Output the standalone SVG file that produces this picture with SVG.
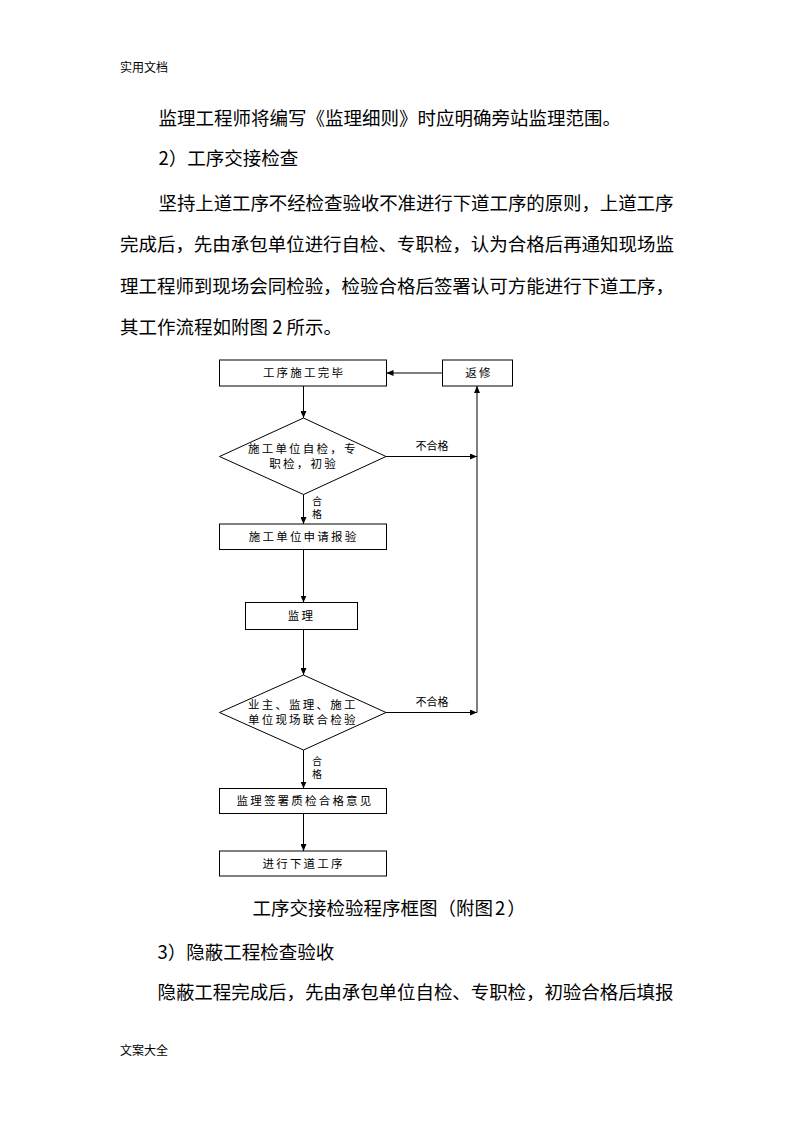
<svg xmlns="http://www.w3.org/2000/svg" width="794" height="1123" viewBox="0 0 794 1123">
<style>
.body{font-family:"Noto Sans CJK SC","Liberation Serif",sans-serif;font-size:18.5px;fill:#000}
.hdr{font-family:"Noto Sans CJK SC",sans-serif;font-size:12px;fill:#000}
.lbl{font-family:"Noto Sans CJK SC",sans-serif;font-size:11.5px;letter-spacing:2.2px;fill:#000;text-anchor:middle}
.sm{font-family:"Noto Sans CJK SC",sans-serif;font-size:11px;fill:#000;text-anchor:middle}
.vs{font-family:"Noto Sans CJK SC",sans-serif;font-size:10px;fill:#000;text-anchor:middle}
.shape{fill:#fff;stroke:#000;stroke-width:1}
.conn{fill:none;stroke:#000;stroke-width:1}
</style>
<defs>
<marker id="arr" markerUnits="userSpaceOnUse" markerWidth="7" markerHeight="6" refX="7" refY="3" orient="auto">
<path d="M0,0 L7,3 L0,6 z" fill="#000"/>
</marker>
</defs>
<rect width="794" height="1123" fill="#fff"/>
<g id="page-text">
<text class="hdr" x="120" y="72">实用文档</text>
<text class="body" x="158.5" y="125">监理工程师将编写《监理细则》时应明确旁站监理范围。</text>
<text class="body" x="158.5" y="165.3">2）工序交接检查</text>
<text class="body" x="158.5" y="209.5" textLength="515" lengthAdjust="spacing">坚持上道工序不经检查验收不准进行下道工序的原则，上道工序</text>
<text class="body" x="120" y="251.3" textLength="554" lengthAdjust="spacing">完成后，先由承包单位进行自检、专职检，认为合格后再通知现场监</text>
<text class="body" x="120" y="293" textLength="554" lengthAdjust="spacing">理工程师到现场会同检验，检验合格后签署认可方能进行下道工序，</text>
<text class="body" x="120" y="333.7">其工作流程如附图 2 所示。</text>
<text class="body" x="252.5" y="915.3">工序交接检验程序框图（附图<tspan dx="2">2</tspan><tspan dx="2">）</tspan></text>
<text class="body" x="157.5" y="958.7">3）隐蔽工程检查验收</text>
<text class="body" x="157.5" y="999" textLength="516" lengthAdjust="spacing">隐蔽工程完成后，先由承包单位自检、专职检，初验合格后填报</text>
<text class="hdr" x="120" y="1055">文案大全</text>
</g>
<g id="connectors">
<line class="conn" x1="303.5" y1="386" x2="303.5" y2="418" marker-end="url(#arr)"/>
<line class="conn" x1="303.5" y1="494.5" x2="303.5" y2="524" marker-end="url(#arr)"/>
<line class="conn" x1="303.5" y1="549.5" x2="303.5" y2="602.5" marker-end="url(#arr)"/>
<line class="conn" x1="303.5" y1="629.5" x2="303.5" y2="675" marker-end="url(#arr)"/>
<line class="conn" x1="303.5" y1="750" x2="303.5" y2="788.5" marker-end="url(#arr)"/>
<line class="conn" x1="303.5" y1="813.5" x2="303.5" y2="851" marker-end="url(#arr)"/>
<line class="conn" x1="386" y1="456.5" x2="477" y2="456.5" marker-end="url(#arr)"/>
<line class="conn" x1="386" y1="712.5" x2="477" y2="712.5" marker-end="url(#arr)"/>
<line class="conn" x1="477" y1="712.5" x2="477" y2="386" marker-end="url(#arr)"/>
<line class="conn" x1="442.5" y1="373" x2="386.5" y2="373" marker-end="url(#arr)"/>
<text class="sm" x="432" y="450">不合格</text>
<text class="sm" x="432" y="706">不合格</text>
<text class="vs" x="317" y="504.5">合</text>
<text class="vs" x="317" y="517.5">格</text>
<text class="vs" x="317" y="764.5">合</text>
<text class="vs" x="317" y="778">格</text>
</g>
<g id="n-finish">
<rect class="shape" x="219.5" y="360" width="167" height="26"/>
<text class="lbl" x="304" y="377.4">工序施工完毕</text>
</g>
<g id="n-repair">
<rect class="shape" x="442.5" y="360" width="70" height="26"/>
<text class="lbl" x="479" y="377.4">返修</text>
</g>
<g id="n-selfcheck">
<polygon class="shape" points="303.5,418 386,456.5 303.5,494.5 219.5,456.5"/>
<text class="lbl" x="302.8" y="452.7">施工单位自检，专</text>
<text class="lbl" x="303.6" y="467.7">职检，初验</text>
</g>
<g id="n-apply">
<rect class="shape" x="219.5" y="524" width="167" height="25.5"/>
<text class="lbl" x="303.6" y="541.1">施工单位申请报验</text>
</g>
<g id="n-supervise">
<rect class="shape" x="245.5" y="602.5" width="112" height="27"/>
<text class="lbl" x="301.4" y="620.4">监理</text>
</g>
<g id="n-joint">
<polygon class="shape" points="303.5,675 386,712.5 303.5,750 219.5,712.5"/>
<text class="lbl" x="302.8" y="709.4">业主、监理、施工</text>
<text class="lbl" x="302.8" y="724.4">单位现场联合检验</text>
</g>
<g id="n-sign">
<rect class="shape" x="219.5" y="788.5" width="167" height="25"/>
<text class="lbl" x="305" y="805.4">监理签署质检合格意见</text>
</g>
<g id="n-next">
<rect class="shape" x="219.5" y="851" width="167" height="25"/>
<text class="lbl" x="303.6" y="867.9">进行下道工序</text>
</g>
</svg>
